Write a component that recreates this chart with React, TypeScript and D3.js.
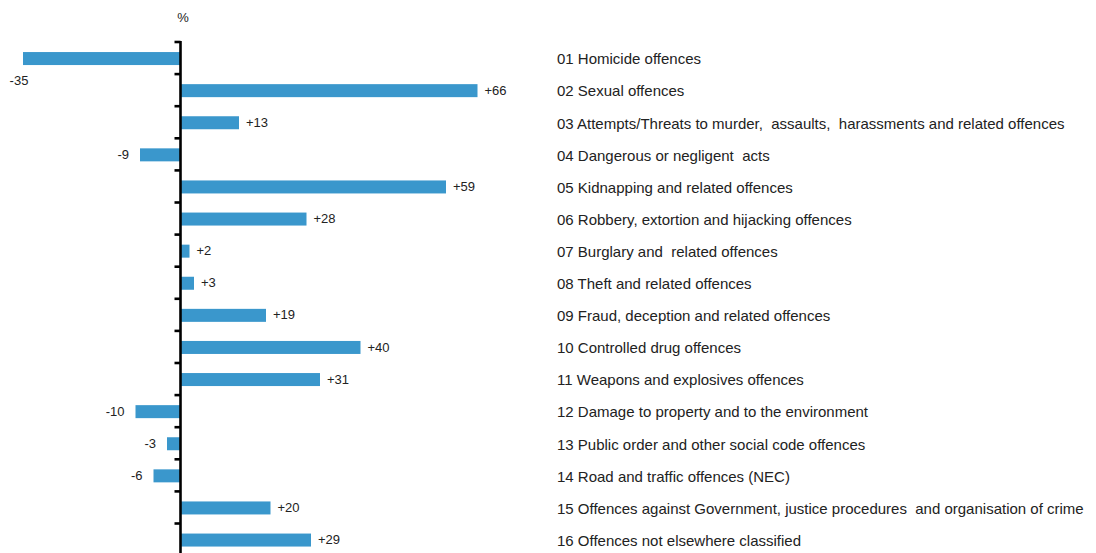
import React from "react";
import * as d3 from "d3";

const categories: string[] = [
  "01 Homicide offences",
  "02 Sexual offences",
  "03 Attempts/Threats to murder,  assaults,  harassments and related offences",
  "04 Dangerous or negligent  acts",
  "05 Kidnapping and related offences",
  "06 Robbery, extortion and hijacking offences",
  "07 Burglary and  related offences",
  "08 Theft and related offences",
  "09 Fraud, deception and related offences",
  "10 Controlled drug offences",
  "11 Weapons and explosives offences",
  "12 Damage to property and to the environment",
  "13 Public order and other social code offences",
  "14 Road and traffic offences (NEC)",
  "15 Offences against Government, justice procedures  and organisation of crime",
  "16 Offences not elsewhere classified",
];

const values: number[] = [-35, 66, 13, -9, 59, 28, 2, 3, 19, 40, 31, -10, -3, -6, 20, 29];

const unitLabel = "%";

const W = 1096;
const H = 553;
const BAR_COLOR = "#3a97cc";
const FONT = "'Liberation Sans', Arial, sans-serif";

export default function App() {
  const x = d3.scaleLinear().domain([-40, 80]).range([0.5, 540.5]);
  const y = d3
    .scaleBand<string>()
    .domain(categories)
    .range([42, 42 + 32.1 * categories.length])
    .paddingInner(0)
    .paddingOuter(0);
  const bw = y.bandwidth();
  const barH = 13;
  const x0 = x(0);
  const ticks = d3.range(categories.length + 1).map((i) => 42 + i * bw);
  const fmt = (v: number) => (v > 0 ? `+${v}` : `${v}`);

  return (
    <svg
      width={W}
      height={H}
      style={{ position: "absolute", left: 0, top: 0, background: "#fff" }}
      fontFamily={FONT}
    >
      <text x={183} y={22} fontSize={13} textAnchor="middle" fill="#222">
        {unitLabel}
      </text>
      {categories.map((c, i) => {
        const v = values[i];
        const cy = (y(c) as number) + bw / 2;
        const xa = x(Math.min(0, v));
        const xb = x(Math.max(0, v));
        let lx: number, ly: number, anchor: string;
        if (v >= 0) {
          lx = xb + 7;
          ly = cy;
          anchor = "start";
        } else if (xa < 45) {
          lx = xa - 4;
          ly = cy + 22;
          anchor = "middle";
        } else {
          lx = xa - 11;
          ly = cy;
          anchor = "end";
        }
        return (
          <g key={c}>
            <rect
              x={xa}
              y={cy - barH / 2 + 0.5}
              width={xb - xa}
              height={barH}
              fill={BAR_COLOR}
            />
            <text
              x={lx}
              y={ly}
              dy="0.35em"
              fontSize={13}
              textAnchor={anchor as any}
              fill="#222"
            >
              {fmt(v)}
            </text>
            <text
              x={557}
              y={cy + 1}
              dy="0.35em"
              fontSize={15}
              fill="#222"
              style={{ whiteSpace: "pre" }}
            >
              {c}
            </text>
          </g>
        );
      })}
      <line x1={x0} x2={x0} y1={41} y2={H + 10} stroke="#000" strokeWidth={2.6} />
      {ticks.map((t, i) => (
        <line key={i} x1={x0 - 6} x2={x0} y1={t} y2={t} stroke="#000" strokeWidth={2.6} />
      ))}
    </svg>
  );
}
